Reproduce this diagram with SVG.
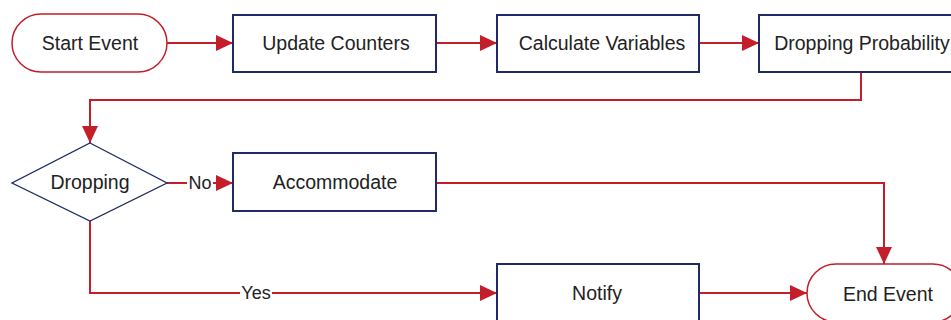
<svg xmlns="http://www.w3.org/2000/svg" width="951" height="320" viewBox="0 0 951 320">
<defs>
<style>
.box{fill:#fff;stroke:#1f2a66;stroke-width:2}
.term{fill:#fff;stroke:#c41e2a;stroke-width:1.5}
.dia{fill:#fff;stroke:#1f2a66;stroke-width:1.3}
.lbl{font-family:"Liberation Sans",Arial,sans-serif;font-size:19.5px;fill:#222;text-anchor:middle;dominant-baseline:central}
.elbl{font-family:"Liberation Sans",Arial,sans-serif;font-size:18px;fill:#222;text-anchor:middle;dominant-baseline:central}
.edge{fill:none;stroke:#c41e2a;stroke-width:2;marker-end:url(#ah)}
</style>
<marker id="ah" markerWidth="17" markerHeight="16" refX="17" refY="8" orient="auto" markerUnits="userSpaceOnUse">
<path d="M0,0 L17,8 L0,16 Z" fill="#c41e2a"/>
</marker>
</defs>
<rect width="951" height="320" fill="#fff"/>
<g id="connectors">
<path class="edge" d="M167,43 H233"/>
<path class="edge" d="M436,43 H497"/>
<path class="edge" d="M699,43 H759"/>
<path class="edge" d="M861,72 V100 H90 V143"/>
<path class="edge" d="M167,183 H233"/>
<path class="edge" d="M436,183 H884 V264"/>
<path class="edge" d="M90,221 V293 H497"/>
<path class="edge" d="M699,293 H807"/>
<rect x="187" y="173" width="26" height="20" fill="#fff"/>
<text class="elbl" x="200" y="183">No</text>
<rect x="240" y="283" width="32" height="20" fill="#fff"/>
<text class="elbl" x="256" y="293">Yes</text>
</g>
<g id="start">
<rect class="term" x="12" y="14" width="155" height="58" rx="29"/>
<text class="lbl" x="90" y="43">Start Event</text>
</g>
<g id="update">
<rect class="box" x="233" y="15" width="203" height="57"/>
<text class="lbl" x="336" y="43">Update Counters</text>
</g>
<g id="calc">
<rect class="box" x="497" y="15" width="202" height="57"/>
<text class="lbl" x="602" y="43">Calculate Variables</text>
</g>
<g id="prob">
<rect class="box" x="759" y="15" width="203" height="57"/>
<text class="lbl" x="862" y="43">Dropping Probability</text>
</g>
<g id="dropping">
<polygon class="dia" points="90,143 167,183 90,221 12,183"/>
<text class="lbl" x="90" y="182">Dropping</text>
</g>
<g id="accommodate">
<rect class="box" x="233" y="153" width="203" height="58"/>
<text class="lbl" x="335" y="182">Accommodate</text>
</g>
<g id="notify">
<rect class="box" x="497" y="264" width="202" height="58"/>
<text class="lbl" x="597" y="293">Notify</text>
</g>
<g id="end">
<rect class="term" x="807" y="264" width="155" height="58" rx="29"/>
<text class="lbl" x="888" y="294">End Event</text>
</g>
</svg>
